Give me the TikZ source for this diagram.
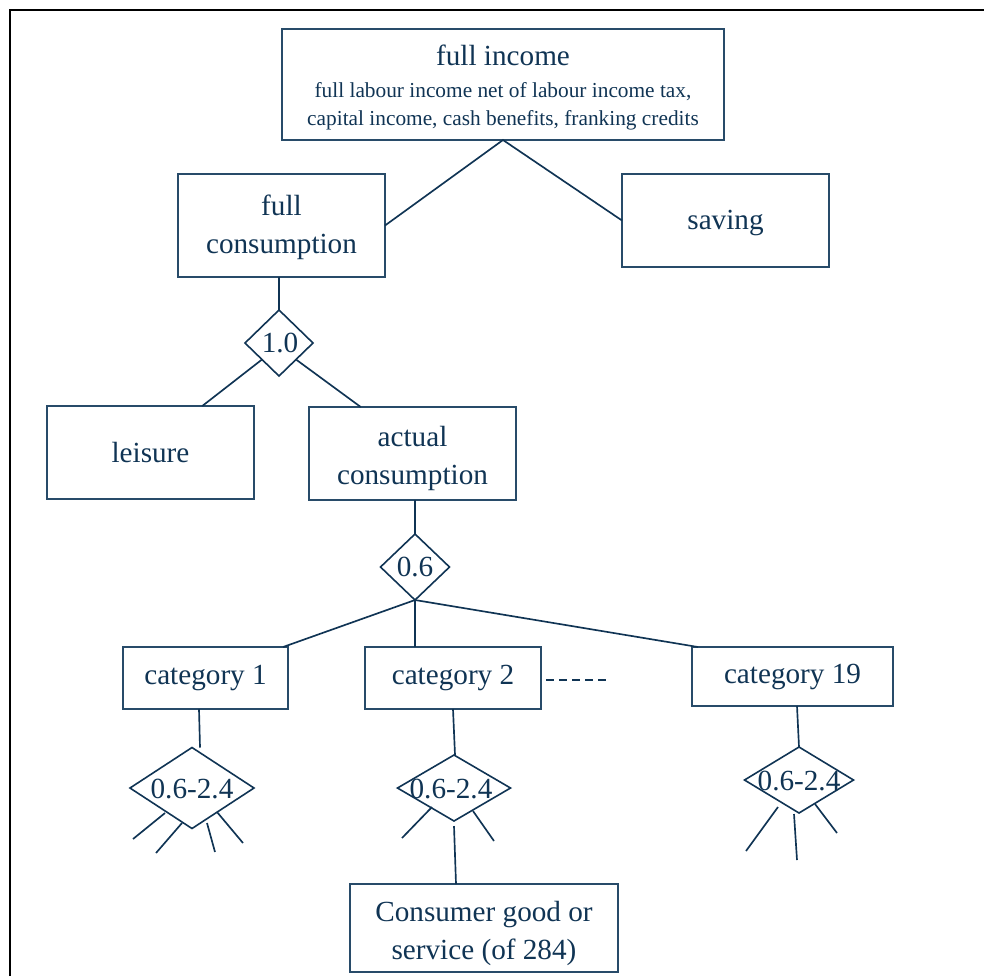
\documentclass[tikz,border=0pt]{standalone}
\usepackage{fontspec}
\setmainfont{Liberation Serif}
\usetikzlibrary{shapes.geometric,calc}
\definecolor{navy}{RGB}{16,52,84}
\definecolor{boxline}{RGB}{40,75,105}
\tikzset{
  box/.style={draw=boxline, line width=1pt, rectangle, inner sep=0pt, outer sep=0pt, align=center, text=navy,
     font=\fontsize{21.9}{28.5}\selectfont},
  dia/.style={draw=navy, line width=1.2pt, shape=diamond, inner sep=0pt, outer sep=0pt},
  lbl/.style={text=navy, inner sep=0pt, align=center, font=\fontsize{21.9}{28.5}\selectfont},
  small/.style={text=navy, inner sep=0pt, font=\fontsize{16}{21}\selectfont},
  conn/.style={draw=navy, line width=1.25pt},
}
\begin{document}
\begin{tikzpicture}[x=0.75pt,y=-0.75pt]
\useasboundingbox (0,0) rectangle (984,976);
% frame
\draw[black, line width=1.5pt] (10,976) -- (10,10) -- (984,10);

% boxes
\node[box, minimum width=331.5pt, minimum height=83.25pt] (fi) at (503,84.5) {};
\node[lbl, anchor=base] (fit) at (503,65) {full income};
\node[small, anchor=base] (fis1) at (503,97) {full labour income net of labour income tax,};
\node[small, anchor=base] (fis2) at (503,125) {capital income, cash benefits, franking credits};

\node[box, minimum width=155.25pt, minimum height=77.25pt] (fc) at (281.5,225.5) {};
\node[lbl] (fct) at (281.5,227.5) {full\\consumption};
\node[box, minimum width=155.25pt, minimum height=69.75pt] (sv) at (725.5,220.5) {};
\node[lbl] (svt) at (725.5,222.5) {saving};
\node[box, minimum width=155.25pt, minimum height=69.75pt] (le) at (150.5,452.5) {leisure};
\node[box, minimum width=155.25pt, minimum height=69.75pt] (ac) at (412.5,453.5) {};
\node[lbl] (act) at (412.5,458) {actual\\consumption};
\node[box, minimum width=123.75pt, minimum height=46.5pt] (c1) at (205.5,678) {category 1};
\node[box, minimum width=132pt, minimum height=46.5pt] (c2) at (453,678) {category 2};
\node[box, minimum width=150.75pt, minimum height=44.25pt] (c19) at (792.5,676.5) {category 19};
\node[box, minimum width=201pt, minimum height=66pt] (cg) at (484,928) {};
\node[lbl] (cgt) at (484,933) {Consumer good or\\service (of 284)};

% diamonds
\node[dia, minimum width=51pt, minimum height=49.5pt] (dA) at (279,343) {};
\node[lbl] (dAt) at (280,343) {1.0};
\node[dia, minimum width=51.75pt, minimum height=49.5pt] (dB) at (415,567) {};
\node[lbl] (dBt) at (415,567) {0.6};
\node[dia, minimum width=93pt, minimum height=60.75pt] (d1) at (192,788) {};
\node[lbl] (d1t) at (192,789) {0.6-2.4};
\node[dia, minimum width=84.75pt, minimum height=49.5pt] (d2) at (454,788) {};
\node[lbl] (d2t) at (451,789) {0.6-2.4};
\node[dia, minimum width=81.75pt, minimum height=49.5pt] (d19) at (799,780) {};
\node[lbl] (d19t) at (799,781) {0.6-2.4};

% connectors
\draw[conn] (fc.east) -- (fi.south) -- (sv.west);
\draw[conn] (fc.south -| dA.north) -- (dA.north);
\draw[conn] ($(dA.west)!0.5!(dA.south)$) -- ($(le.north west)!0.75!(le.north east)$);
\draw[conn] ($(dA.east)!0.5!(dA.south)$) -- ($(ac.north west)!0.25!(ac.north east)$);
\draw[conn] (ac.south -| dB.north) -- (dB.north);
\draw[conn] (dB.south) -- ($(c1.north west)!0.97!(c1.north east)$);
\draw[conn] (dB.south) -- (c2.north -| dB.south);
\draw[conn] (dB.south) -- ($(c19.north west)!0.03!(c19.north east)$);
\draw[conn] (c1.south -| 199,0) -- (d1.north -| 200,0);
\draw[conn] (c2.south -| 453,0) -- (d2.north -| 455,0);
\draw[conn] (c19.south -| 797,0) -- (d19.north);
\draw[conn] (d2.south |- 0,826) -- (cg.north -| 456,0);

% ellipsis dashes
\draw[conn, dash pattern=on 6pt off 3.75pt] ([xshift=3.75pt,yshift=-1.5pt]c2.east) -- ++(62,0);

% spokes
\draw[conn] (165,813) -- (133,839);
\draw[conn] (182,823) -- (156,853);
\draw[conn] (207,823) -- (215,852);
\draw[conn] (217,812) -- (243,843);
\draw[conn] (432,807) -- (402,838);
\draw[conn] (473,811) -- (494,841);
\draw[conn] (778,807) -- (746,851);
\draw[conn] (794,814) -- (797,860);
\draw[conn] (815,804) -- (837,833);
\end{tikzpicture}
\end{document}
